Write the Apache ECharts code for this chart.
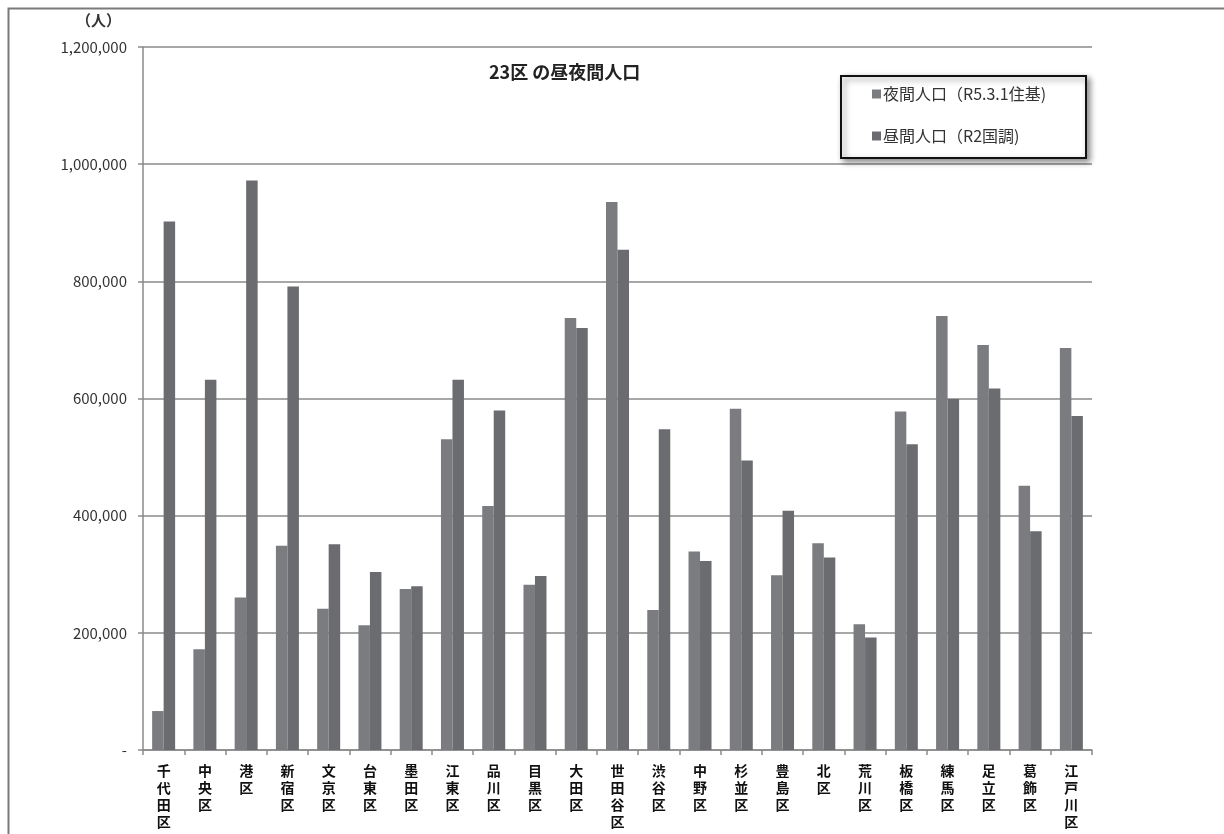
<!DOCTYPE html>
<html>
<head>
<meta charset="utf-8">
<script src="https://cdn.jsdelivr.net/npm/echarts@6/dist/echarts.min.js"></script>
<style>
html,body{margin:0;padding:0;background:#fff;}
#c{width:1224px;height:834px;}
</style>
</head>
<body>
<div id="c"></div>
<script>
var categories = ['千代田区','中央区','港区','新宿区','文京区','台東区','墨田区','江東区','品川区','目黒区','大田区','世田谷区','渋谷区','中野区','杉並区','豊島区','北区','荒川区','板橋区','練馬区','足立区','葛飾区','江戸川区'];
var nightPop = [66500,172000,260500,348500,241000,213000,275000,530500,416500,282000,737500,935500,239000,339000,582500,298500,353000,214500,578000,741000,691500,451000,686000];
var dayPop = [902000,632000,972000,791000,351000,304000,279500,632000,579500,297000,720500,854000,547500,322500,494000,408500,328500,192000,522000,599000,617000,373500,570000];
var seriesNames = ['夜間人口（R5.3.1住基)','昼間人口（R2国調)'];
var titleText = '23区 の昼夜間人口';
var unitText = '（人）';

var FONT = '"Noto Sans CJK JP", "Noto Sans", sans-serif';
var chart = echarts.init(document.getElementById('c'));
chart.setOption({
  backgroundColor: '#ffffff',
  animation: false,
  textStyle: {fontFamily: FONT},
  title: {
    text: titleText,
    left: 489, top: 63,
    padding: 0,
    textStyle: {fontSize: 18, fontWeight: 'bold', color: '#222', fontFamily: FONT}
  },
  graphic: [
    {type: 'rect', left: 6, top: 6, shape: {width: 1217, height: 845},
     style: {fill: 'none', stroke: '#7a7a7a', lineWidth: 2}, silent: true, z: 0},
    {type: 'rect', left: 840, top: 75, shape: {width: 245, height: 82},
     style: {fill: '#fff', stroke: '#111', lineWidth: 2,
             shadowBlur: 6, shadowColor: 'rgba(0,0,0,0.45)', shadowOffsetX: 3, shadowOffsetY: 3},
     silent: true, z: 5},
    {type: 'text', left: 76, top: 13,
     style: {text: unitText, fontSize: 15, fontWeight: 'bold', fill: '#333', fontFamily: FONT}, z: 10}
  ],
  legend: {
    orient: 'vertical',
    left: 872, top: 86,
    padding: 0,
    itemGap: 26,
    itemWidth: 9, itemHeight: 9,
    icon: 'rect',
    z: 10,
    textStyle: {fontSize: 16, color: '#333', fontFamily: FONT, padding: [0,0,0,-3]},
    data: seriesNames
  },
  grid: {left: 143, right: 132, top: 47, bottom: 84, containLabel: false},
  xAxis: {
    type: 'category',
    data: categories,
    axisLine: {lineStyle: {color: '#8a8a8a', width: 1.5}},
    axisTick: {show: true, length: 5, lineStyle: {color: '#8a8a8a', width: 1.5}},
    axisLabel: {
      interval: 0, margin: 12,
      fontSize: 14, fontWeight: 'bold', color: '#111', lineHeight: 17,
      fontFamily: FONT,
      formatter: function (v) { return v.split('').join('\n'); }
    }
  },
  yAxis: {
    type: 'value',
    min: 0, max: 1200000, interval: 200000,
    axisLine: {show: true, lineStyle: {color: '#8a8a8a', width: 1.5}},
    axisTick: {show: true, length: 5, lineStyle: {color: '#8a8a8a', width: 1.5}},
    splitLine: {lineStyle: {color: '#8a8a8a', width: 1.5}},
    axisLabel: {
      margin: 16, fontSize: 15, color: '#333', fontFamily: FONT,
      formatter: function (v) { return v === 0 ? '-' : v.toLocaleString('en-US'); }
    }
  },
  series: [
    {name: seriesNames[0], type: 'bar', data: nightPop, barWidth: 11.5, barGap: '0%',
     itemStyle: {color: '#7b7c80'}},
    {name: seriesNames[1], type: 'bar', data: dayPop, barWidth: 11.5, barGap: '0%',
     itemStyle: {color: '#6b6c70'}}
  ]
});
</script>
</body>
</html>
